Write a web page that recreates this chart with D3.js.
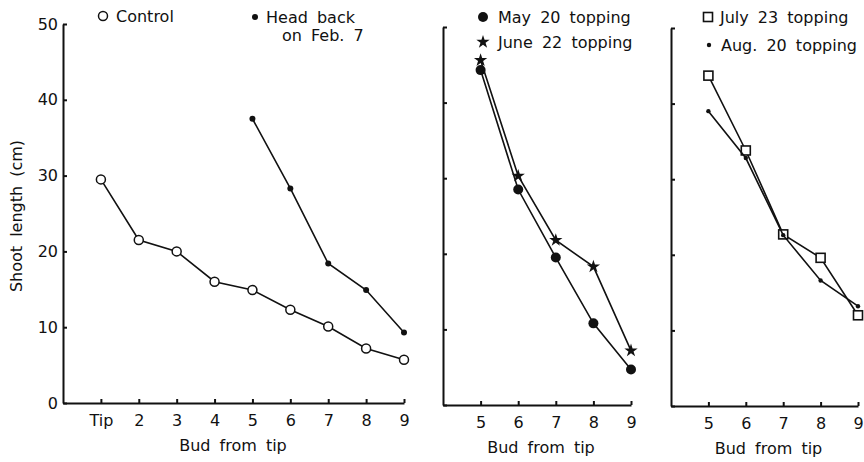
<!DOCTYPE html>
<html lang="en">
<head>
<meta charset="UTF-8">
<title>Shoot length by bud position</title>
<script src="https://d3js.org/d3.v7.min.js"></script>
<style>
    body { margin: 0; background: #fff; }
    svg text { font-family: "DejaVu Sans", sans-serif; fill: #111; word-spacing: 4px; }
    .axis path, .axis line { stroke: #111; stroke-width: 2px; }
    .series { fill: none; stroke: #111; stroke-width: 1.6px; }
</style>
</head>
<body>
<div id="chart"></div>
<script>
    // bud positions (Tip = 1)
    const budsAll = [1, 2, 3, 4, 5, 6, 7, 8, 9];
    const budsLower = [5, 6, 7, 8, 9];
    const budLabels = ["Tip", "2", "3", "4", "5", "6", "7", "8", "9"];
    const yTicks = [0, 10, 20, 30, 40, 50];

    // shoot length (cm)
    const control = [29.5, 21.5, 20.0, 16.0, 14.9, 12.3, 10.1, 7.2, 5.7];
    const headBack = [37.5, 28.3, 18.4, 14.9, 9.3];
    const may20 = [44.3, 28.5, 19.5, 10.8, 4.7];
    const june22 = [45.6, 30.3, 21.8, 18.3, 7.2];
    const july23 = [43.7, 33.8, 22.7, 19.6, 12.0];
    const aug20 = [39.0, 32.8, 22.6, 16.6, 13.2];

    const width = 864, height = 462;
    const svg = d3.select("#chart").append("svg")
        .attr("width", width).attr("height", height);

    const panels = [
        { x0: 63, x1: 404, dom: [0, 9], yb: 403, yt: 24, buds: budsAll, labels: true,
          series: [
            { name: "Control", data: control, xs: budsAll, shape: "open" },
            { name: "Head back", data: headBack, xs: budsLower, shape: "dot" }
          ] },
        { x0: 443, x1: 631, dom: [4, 9], yb: 405, yt: 27, buds: budsLower, labels: false,
          series: [
            { name: "May 20 topping", data: may20, xs: budsLower, shape: "big" },
            { name: "June 22 topping", data: june22, xs: budsLower, shape: "star" }
          ] },
        { x0: 671, x1: 858, dom: [4, 9], yb: 406, yt: 28, buds: budsLower, labels: false,
          series: [
            { name: "July 23 topping", data: july23, xs: budsLower, shape: "square" },
            { name: "Aug. 20 topping", data: aug20, xs: budsLower, shape: "small" }
          ] }
    ];

    function drawMarker(g, shape, cx, cy) {
        if (shape === "open") {
            g.append("circle").attr("cx", cx).attr("cy", cy).attr("r", 4.5)
                .attr("fill", "#fff").attr("stroke", "#111").attr("stroke-width", 1.5);
        } else if (shape === "dot") {
            g.append("circle").attr("cx", cx).attr("cy", cy).attr("r", 3).attr("fill", "#111");
        } else if (shape === "big") {
            g.append("circle").attr("cx", cx).attr("cy", cy).attr("r", 5).attr("fill", "#111");
        } else if (shape === "small") {
            g.append("circle").attr("cx", cx).attr("cy", cy).attr("r", 2.2).attr("fill", "#111");
        } else if (shape === "star") {
            g.append("path").attr("d", d3.symbol(d3.symbolStar, 55)())
                .attr("transform", `translate(${cx},${cy})`)
                .attr("fill", "#111");
        } else if (shape === "square") {
            g.append("rect").attr("x", cx - 4.5).attr("y", cy - 4.5)
                .attr("width", 9).attr("height", 9)
                .attr("fill", "#fff").attr("stroke", "#111").attr("stroke-width", 1.6);
        }
    }

    panels.forEach(p => {
        const x = d3.scaleLinear().domain(p.dom).range([p.x0, p.x1]);
        const y = d3.scaleLinear().domain([0, 50]).range([p.yb, p.yt]);
        const g = svg.append("g");

        // y axis
        const yAxis = d3.axisLeft(y).tickValues(yTicks).tickSize(-4).tickSizeOuter(0)
            .tickFormat(p.labels ? d3.format("d") : "");
        g.append("g").attr("class", "axis").attr("transform", `translate(${p.x0},0)`)
            .call(yAxis)
            .call(a => a.selectAll("text").attr("font-size", 16).attr("dx", -2).style("fill", "#111"));

        // x axis
        const xAxis = d3.axisBottom(x).tickValues(p.buds).tickSize(-4).tickSizeOuter(0)
            .tickFormat(d => budLabels[d - 1]);
        g.append("g").attr("class", "axis").attr("transform", `translate(0,${p.yb})`)
            .call(xAxis)
            .call(a => a.selectAll("text").attr("font-size", 16).attr("dy", "1.25em").style("fill", "#111"));

        g.append("text").attr("x", p.labels ? 233 : (p.x0 + p.x1) / 2 + 4).attr("y", p.yb + 48)
            .attr("text-anchor", "middle").attr("font-size", 16).text("Bud from tip");

        // series
        const line = d3.line().x(d => x(d[0])).y(d => y(d[1]));
        p.series.forEach(s => {
            const pts = s.xs.map((b, i) => [b, s.data[i]]);
            g.append("path").attr("class", "series").attr("d", line(pts));
            pts.forEach(d => drawMarker(g, s.shape, x(d[0]), y(d[1])));
        });
    });

    svg.append("text").attr("transform", "translate(22,216) rotate(-90)")
        .attr("text-anchor", "middle").attr("font-size", 16).text("Shoot length (cm)");

    // legends
    const leg = svg.append("g");
    function legendItem(shape, mx, my, tx, label) {
        drawMarker(leg, shape, mx, my);
        leg.append("text").attr("x", tx).attr("y", my + 6).attr("font-size", 16).text(label);
    }
    legendItem("open", 103, 16, 116, "Control");
    legendItem("dot", 255, 17, 266, "Head back");
    leg.append("text").attr("x", 282).attr("y", 41).attr("font-size", 16).text("on Feb. 7");
    legendItem("big", 483, 17, 498, "May 20 topping");
    legendItem("star", 483, 42, 498, "June 22 topping");
    legendItem("square", 708, 17, 720, "July 23 topping");
    legendItem("small", 709, 45, 721, "Aug. 20 topping");
</script>
</body>
</html>
